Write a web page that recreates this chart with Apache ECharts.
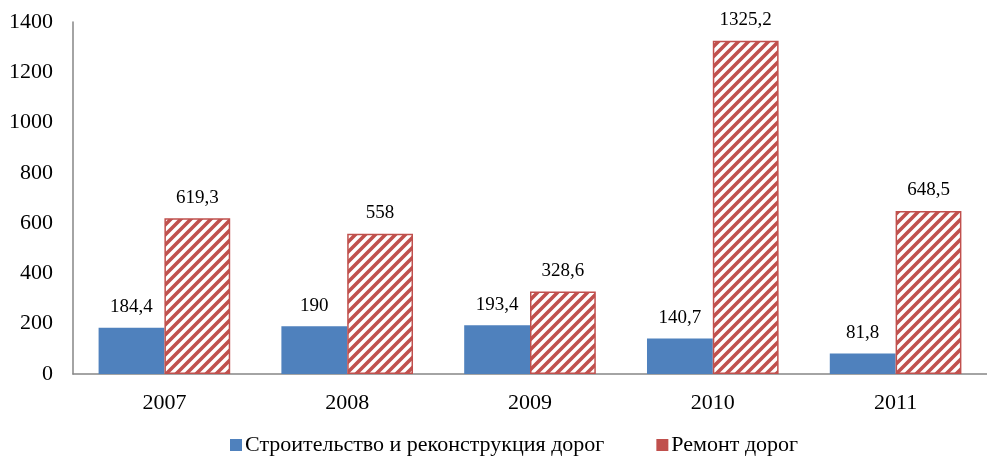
<!DOCTYPE html>
<html>
<head>
<meta charset="utf-8">
<script src="https://cdn.jsdelivr.net/npm/echarts@6/dist/echarts.min.js"></script>
<style>
  html, body { margin: 0; padding: 0; background: #fff; }
  #chart { width: 987px; height: 456px; }
</style>
</head>
<body>
<div id="chart"></div>
<script>
const years = ['2007', '2008', '2009', '2010', '2011']
const construction = [184.4, 190, 193.4, 140.7, 81.8]
const repair = [619.3, 558, 328.6, 1325.2, 648.5]
const seriesNames = ['Строительство и реконструкция дорог', 'Ремонт дорог']

const FONT = '"Liberation Serif", "Times New Roman", serif'
const RED = '#c0504d'
const BLUE = '#4f81bd'

// diagonal hatch tile for the repair bars
function hatch() {
  const c = document.createElement('canvas')
  c.width = 10
  c.height = 10
  const ctx = c.getContext('2d')
  ctx.fillStyle = '#fff'
  ctx.fillRect(0, 0, 10, 10)
  ctx.strokeStyle = RED
  ctx.lineWidth = 3.6
  ctx.beginPath()
  ctx.moveTo(-5, 5); ctx.lineTo(5, -5)
  ctx.moveTo(0, 10); ctx.lineTo(10, 0)
  ctx.moveTo(5, 15); ctx.lineTo(15, 5)
  ctx.stroke()
  return c
}

const fmt = (p) => String(p.value).replace('.', ',')
const labelStyle = { show: true, position: 'top', distance: 11, fontFamily: FONT, fontSize: 19, color: '#000', formatter: fmt }

const chart = echarts.init(document.getElementById('chart'), null, { renderer: 'canvas' })
chart.setOption({
  animation: false,
  textStyle: { fontFamily: FONT },
  grid: { left: 73, top: 22, width: 927, height: 352 },
  legend: {
    top: 434,
    left: 230,
    padding: 0,
    itemWidth: 12,
    itemHeight: 12,
    itemGap: 52,
    icon: 'rect',
    textStyle: { fontFamily: FONT, fontSize: 22, color: '#000', padding: [0, 0, 0, -2] },
    data: [
      { name: seriesNames[0], itemStyle: { color: BLUE } },
      { name: seriesNames[1], itemStyle: { color: RED, borderWidth: 0 } },
    ],
  },
  xAxis: {
    type: 'category',
    data: years,
    axisLine: { lineStyle: { color: '#868686', width: 1.5 } },
    axisTick: { show: false },
    axisLabel: { fontFamily: FONT, fontSize: 22, color: '#000', margin: 18 },
  },
  yAxis: {
    type: 'value',
    min: 0,
    max: 1400,
    interval: 200,
    axisLine: { show: true, lineStyle: { color: '#868686', width: 1.5 } },
    axisTick: { show: false },
    splitLine: { show: false },
    axisLabel: { fontFamily: FONT, fontSize: 22, color: '#000', margin: 20, formatter: (v) => String(v) },
  },
  series: [
    {
      name: seriesNames[0],
      type: 'bar',
      data: construction,
      barWidth: '36%',
      barGap: '0%',
      itemStyle: { color: BLUE },
      label: labelStyle,
    },
    {
      name: seriesNames[1],
      type: 'bar',
      data: repair,
      barWidth: '36%',
      itemStyle: { color: { image: hatch(), repeat: 'repeat' }, borderColor: RED, borderWidth: 1.5 },
      label: labelStyle,
    },
  ],
})
</script>
</body>
</html>
